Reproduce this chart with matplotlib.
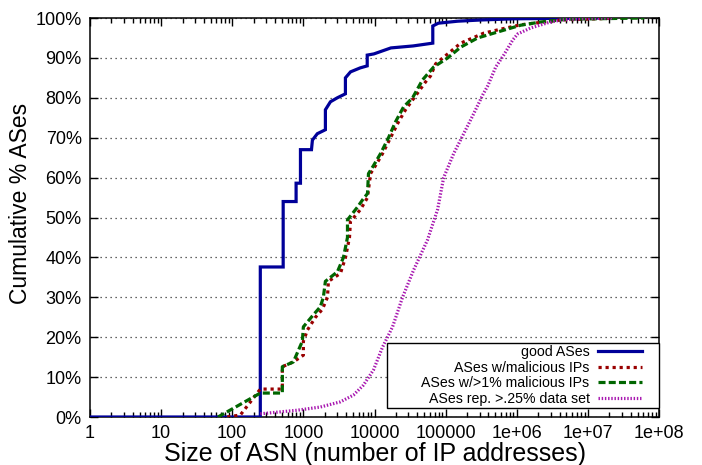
"""
CDF of AS size (number of IP addresses) for several groups of ASes.
"""

import matplotlib

matplotlib.use("Agg")
import matplotlib.pyplot as plt
import matplotlib.ticker as ticker
from matplotlib.patches import Rectangle

# ──────────────────────────────────────────────────────────────────────────────
# Data
# ──────────────────────────────────────────────────────────────────────────────

good_size = [1, 248, 248, 520, 520, 790, 790, 910, 910, 1300, 1340, 1570, 2040, 2040,
             2400, 3000, 3900, 3900, 4600, 6300, 7900, 7900, 9800, 17000, 35000,
             66000, 66000, 79000, 148000, 309000, 910000, 1.7e7]
good_cdf = [0, 0, 37.6, 37.6, 54, 54, 58.6, 58.6, 67, 67, 69.4, 71, 72, 77,
            79, 80, 81, 85, 86.5, 87.5, 88, 90.7, 91, 92.5, 93,
            93.7, 98, 98.7, 99.2, 99.5, 99.8, 100]

mal_size = [85, 130, 248, 506, 506, 723, 1000, 1000, 1140, 1480, 1850, 2180, 2250,
            3320, 3910, 4450, 4590, 6350, 7970, 8790, 10330, 12970, 16800, 21800,
            27300, 37800, 52300, 61500, 72300, 107000, 163000, 343000, 596000,
            1.14e6, 4.17e6, 2.9e7]
mal_cdf = [0, 0.5, 7, 7, 12.6, 13.8, 15.5, 19, 21.8, 25, 27, 30, 34,
           36, 40, 45, 49, 52, 55, 61, 63, 66, 70, 74,
           77, 80.5, 84, 85.5, 88.5, 91, 93.7, 96.2, 97.2,
           98.3, 99.5, 100]

mal1_size = [63, 248, 506, 506, 723, 968, 1000, 1380, 1730, 1910, 2040, 3010, 3660,
             4170, 4170, 5760, 6780, 7970, 8230, 9680, 12150, 15740, 19770, 25600,
             34300, 47400, 67800, 107000, 163000, 282000, 540000, 1.14e6, 2.18e6,
             5.2e6, 6.2e7]
mal1_cdf = [0, 6, 6, 12.6, 13.8, 19, 22.6, 25.6, 27.6, 30, 34, 36.4, 40,
            45, 49.4, 52.6, 54.4, 56, 61, 63, 66, 70, 74, 77.7,
            80, 84.5, 87.7, 90, 92.7, 95, 96.5, 98.2, 99,
            99.7, 100]

rep_size = [248, 823, 1730, 3320, 5060, 7000, 9680, 12970, 17950, 24800, 35400,
            55700, 77100, 93800, 129700, 179500, 247900, 331900, 390800, 506000,
            655600, 878800, 1.03e6, 1.57e6, 2.73e6, 4.17e6, 7.96e6, 2.32e7]
rep_cdf = [0.8, 1.7, 2.5, 3.8, 5.5, 8, 11.8, 17.5, 22.6, 30, 36.8,
           44.4, 52, 60, 66, 71, 76, 80.7, 83, 87.7,
           90.7, 94.5, 96, 97.5, 98.8, 99.5, 99.8, 100]

x_ticks = [1, 10, 100, 1000, 10000, 100000, 1e6, 1e7, 1e8]
x_tick_labels = ["1", "10", "100", "1000", "10000", "100000", "1e+06", "1e+07", "1e+08"]
y_ticks = [0, 10, 20, 30, 40, 50, 60, 70, 80, 90, 100]
y_tick_labels = [f"{v}%" for v in y_ticks]

# ──────────────────────────────────────────────────────────────────────────────
# Figure
# ──────────────────────────────────────────────────────────────────────────────

plt.rcParams["font.family"] = ["Liberation Sans", "DejaVu Sans"]

W, H = 702, 465
AX_L, AX_R, AX_T, AX_B = 90, 659, 18, 417
ax_w, ax_h = AX_R - AX_L, AX_B - AX_T

fig = plt.figure(figsize=(W / 100, H / 100), dpi=100)
ax = fig.add_axes([AX_L / W, 1 - AX_B / H, ax_w / W, ax_h / H])

ax.plot(good_size, good_cdf, color="#000099", linewidth=2.3, label="good ASes",
        solid_joinstyle="miter", zorder=3)
ax.plot(mal_size, mal_cdf, color="#990000", linewidth=2.3, dashes=(1, 1.2),
        label="ASes w/malicious IPs", zorder=3)
ax.plot(mal1_size, mal1_cdf, color="#006600", linewidth=2.3, dashes=(2.2, 1.0),
        label="ASes w/>1% malicious IPs", zorder=3)
ax.plot(rep_size, rep_cdf, color="#a818b0", linewidth=2.3, dashes=(0.45, 0.55),
        label="ASes rep. >.25% data set", zorder=3)

ax.set_xscale("log")
ax.set_xlim(1, 1e8)
ax.set_ylim(0, 100)

ax.xaxis.set_major_locator(ticker.FixedLocator(x_ticks))
ax.xaxis.set_major_formatter(ticker.FixedFormatter(x_tick_labels))
ax.xaxis.set_minor_locator(ticker.LogLocator(base=10.0, subs=(2, 3, 4, 5, 6, 7, 8, 9), numticks=100))
ax.xaxis.set_minor_formatter(ticker.NullFormatter())
ax.yaxis.set_major_locator(ticker.FixedLocator(y_ticks))
ax.yaxis.set_major_formatter(ticker.FixedFormatter(y_tick_labels))

ax.tick_params(axis="both", which="major", direction="in", length=6, width=1.0,
               top=True, right=True, labelsize=13, pad=6, color="black")
ax.tick_params(axis="x", which="minor", direction="in", length=3.5, width=1.0,
               top=True, bottom=True)

for sp in ax.spines.values():
    sp.set_linewidth(1.1)

ax.grid(True, axis="y", which="major", linestyle=(0, (1, 3)), linewidth=0.9, color="#333333")
ax.set_axisbelow(True)

ax.set_xlabel("Size of ASN (number of IP addresses)", fontsize=18, labelpad=0)
ax.set_ylabel("Cumulative % ASes", fontsize=16.5)
ax.yaxis.set_label_coords(-(AX_L - 32) / ax_w, (AX_B - 203) / ax_h)

# legend box (gnuplot style: wide frame, right-aligned text, sample on the right)
box_l, box_t, box_b = 387, 343, 408
ax.add_patch(Rectangle(((box_l - AX_L) / ax_w, (AX_B - box_b) / ax_h),
                       (AX_R - box_l) / ax_w, (box_b - box_t) / ax_h,
                       transform=ax.transAxes, facecolor="white", edgecolor="black",
                       linewidth=1.0, zorder=4, clip_on=False))
leg = ax.legend(loc="center right", bbox_to_anchor=((642 - AX_L) / ax_w, (AX_B - 375.5) / ax_h),
                borderaxespad=0, borderpad=0, markerfirst=False, fontsize=10.2,
                frameon=False, handlelength=3.1, handletextpad=0.6, labelspacing=0.12)
leg.set_zorder(5)

fig.savefig("out.png", dpi=100)
